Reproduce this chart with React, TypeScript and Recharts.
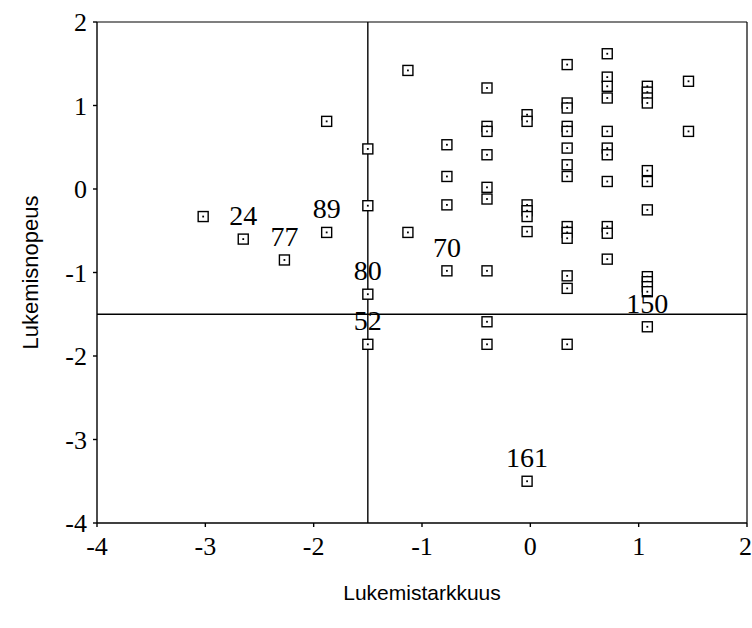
import React from "react";
import { ScatterChart, Scatter, XAxis, YAxis, ReferenceLine } from "recharts";

// x positions of the point columns (Lukemistarkkuus)
const columnX = [-3.02, -2.65, -2.27, -1.88, -1.5, -1.13, -0.77, -0.4, -0.03, 0.34, 0.71, 1.08, 1.46];

// Lukemisnopeus values in each column, top to bottom
const columnY = [
  [-0.33],
  [-0.6],
  [-0.85],
  [0.81, -0.52],
  [0.48, -0.2, -1.26, -1.86],
  [1.42, -0.52],
  [0.53, 0.15, -0.19, -0.98],
  [1.21, 0.75, 0.69, 0.41, 0.02, -0.12, -0.98, -1.59, -1.86],
  [0.89, 0.81, -0.19, -0.26, -0.33, -0.51, -3.5],
  [1.49, 1.03, 0.97, 0.75, 0.69, 0.49, 0.29, 0.15, -0.45, -0.52, -0.59, -1.04, -1.19, -1.86],
  [1.62, 1.34, 1.23, 1.09, 0.69, 0.49, 0.41, 0.09, -0.45, -0.53, -0.84],
  [1.23, 1.16, 1.09, 1.03, 0.22, 0.09, -0.25, -1.05, -1.11, -1.17, -1.23, -1.65],
  [1.29, 0.69],
];

// case numbers written over single points: [column, value, id]
const caseLabels: Array<[number, number, string]> = [
  [1, -0.6, "24"],
  [2, -0.85, "77"],
  [3, -0.52, "89"],
  [4, -1.26, "80"],
  [4, -1.86, "52"],
  [6, -0.98, "70"],
  [8, -3.5, "161"],
  [11, -1.65, "150"],
];

const axisTicks = [-4, -3, -2, -1, 0, 1, 2];
const cutoff = -1.5;

const points = columnY.flatMap((ys, i) =>
  ys.map((y) => {
    const hit = caseLabels.find((c) => c[0] === i && c[1] === y);
    return { x: columnX[i], y, id: hit ? hit[2] : "" };
  })
);

const serif = "'Liberation Serif', 'Times New Roman', serif";
const sans = "'Liberation Sans', Arial, sans-serif";

const BoxMark = (props: any) => {
  const { cx, cy, payload } = props;
  return (
    <g>
      <rect x={cx - 5} y={cy - 5} width={10} height={10} fill="#fff" stroke="#000" strokeWidth={1.4} />
      <rect x={cx - 0.9} y={cy - 0.9} width={1.8} height={1.8} fill="#000" />
      {payload.id && (
        <text x={cx} y={cy - 14} textAnchor="middle" fontFamily={serif} fontSize={28} fill="#000">
          {payload.id}
        </text>
      )}
    </g>
  );
};

export default function App() {
  return (
    <div style={{ position: "absolute", left: 0, top: 0, background: "#fff" }}>
      <ScatterChart width={752} height={628} margin={{ top: 22, right: 5, bottom: 22, left: 0 }}>
        <XAxis
          type="number"
          dataKey="x"
          domain={[-4, 2]}
          ticks={axisTicks}
          allowDataOverflow
          height={83}
          tickSize={4}
          tickMargin={10}
          axisLine={{ stroke: "#000", strokeWidth: 1.4 }}
          tickLine={{ stroke: "#000", strokeWidth: 1.4 }}
          tick={{ fill: "#000", fontFamily: serif, fontSize: 26 }}
          label={{ value: "Lukemistarkkuus", position: "insideBottom", offset: 6, fill: "#000", fontFamily: sans, fontSize: 21 }}
        />
        <YAxis
          type="number"
          dataKey="y"
          domain={[-4, 2]}
          ticks={axisTicks}
          allowDataOverflow
          width={97}
          tickSize={4}
          tickMargin={6}
          axisLine={{ stroke: "#000", strokeWidth: 1.4 }}
          tickLine={{ stroke: "#000", strokeWidth: 1.4 }}
          tick={{ fill: "#000", fontFamily: serif, fontSize: 26 }}
          label={{
            value: "Lukemisnopeus",
            angle: -90,
            position: "insideLeft",
            offset: 30,
            fill: "#000",
            fontFamily: sans,
            fontSize: 22,
            style: { textAnchor: "middle" },
          }}
        />
        <ReferenceLine y={2} stroke="#000" strokeWidth={1.2} />
        <ReferenceLine x={2} stroke="#000" strokeWidth={1.2} />
        <ReferenceLine x={cutoff} stroke="#000" strokeWidth={1.4} />
        <ReferenceLine y={cutoff} stroke="#000" strokeWidth={1.4} />
        <Scatter data={points} shape={BoxMark} isAnimationActive={false} />
      </ScatterChart>
    </div>
  );
}
